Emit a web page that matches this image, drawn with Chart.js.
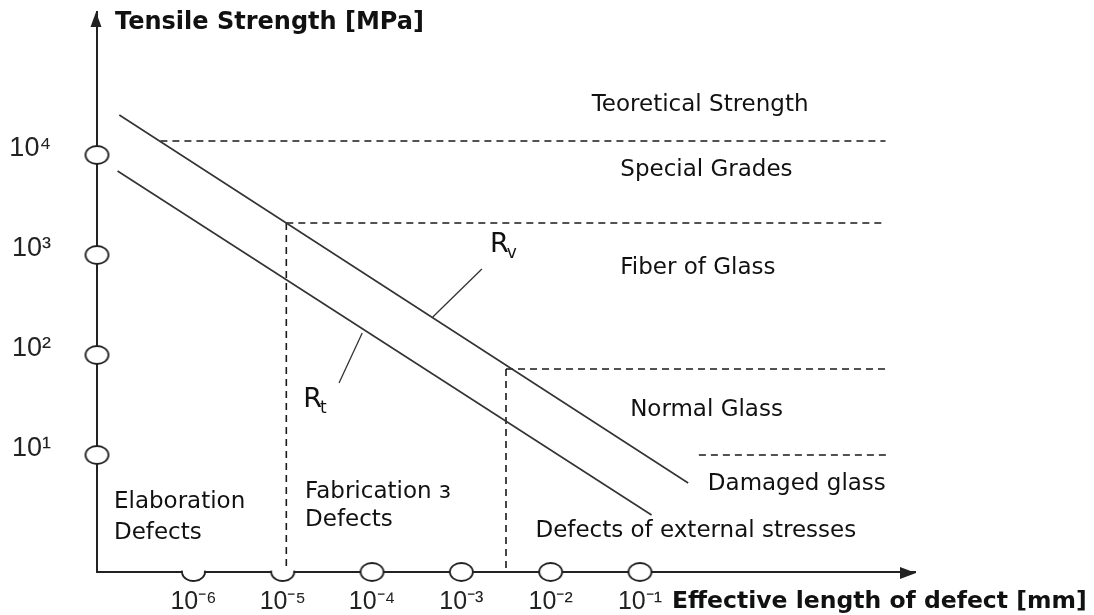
<!DOCTYPE html>
<html>
<head>
<meta charset="utf-8">
<script src="https://cdn.jsdelivr.net/npm/chart.js@4"></script>
<style>
  html, body { margin: 0; padding: 0; background: #fff; }
  #wrap { width: 1094px; height: 615px; }
</style>
</head>
<body>
<div id="wrap"><canvas id="chart" width="1094" height="615"></canvas></div>
<script>
// values are decimal exponents: x = log10(defect length in mm), y = log10(strength in MPa)
const xTicks = [-6, -5, -4, -3, -2, -1];
const xTickLabels = ['10⁻⁶', '10⁻⁵', '10⁻⁴', '10⁻³', '10⁻²', '10⁻¹'];
const yTicks = [1, 2, 3, 4];
const yTickLabels = ['10¹', '10²', '10³', '10⁴'];

const rvLine = [{x: -6.83, y: 4.40}, {x: -0.46, y: 0.72}];
const rtLine = [{x: -6.85, y: 3.84}, {x: -0.87, y: 0.40}];

// dashed borders between the strength classes
const theoreticalBorder = [{x: -6.37, y: 4.14}, {x: 1.75, y: 4.14}];
const specialBorder = [{x: -4.96, y: 3.32}, {x: 1.75, y: 3.32}];
const fiberBorder = [{x: -2.50, y: 1.86}, {x: 1.75, y: 1.86}];
const damagedBorder = [{x: -0.34, y: 1.00}, {x: 1.78, y: 1.00}];
const fabricationBorder = [{x: -4.96, y: 3.32}, {x: -4.96, y: -0.17}];
const externalBorder = [{x: -2.50, y: 1.86}, {x: -2.50, y: -0.17}];

// leader lines for the curve names
const rvLeader = [{x: -2.77, y: 2.86}, {x: -3.32, y: 2.38}];
const rtLeader = [{x: -4.11, y: 2.22}, {x: -4.37, y: 1.72}];

const xMin = -7.08, xMax = 2.08;
const yMin = -0.17, yMax = 5.43;

const regionLabels = [
    {text: 'Teoretical Strength', x: -1.54, y: 4.50},
    {text: 'Special Grades', x: -1.22, y: 3.85},
    {text: 'Fiber of Glass', x: -1.22, y: 2.87},
    {text: 'Normal Glass', x: -1.11, y: 1.45},
    {text: 'Damaged glass', x: -0.24, y: 0.71},
    {text: 'Defects of external stresses', x: -2.17, y: 0.24},
    {text: 'Elaboration', x: -6.89, y: 0.53},
    {text: 'Defects', x: -6.89, y: 0.22},
    {text: 'Fabrication ɜ', x: -4.75, y: 0.63},
    {text: 'Defects', x: -4.75, y: 0.35}
];
const curveNames = [
    {main: 'R', sub: 'v', x: -2.68, y: 3.10},
    {main: 'R', sub: 't', x: -4.77, y: 1.55}
];

function ring(half) {
    const c = document.createElement('canvas');
    c.width = 27; c.height = 22;
    const g = c.getContext('2d');
    g.lineWidth = 1.8;
    g.strokeStyle = '#222';
    g.fillStyle = '#fff';
    g.beginPath();
    if (half) {
        g.ellipse(13.5, 11, 11.5, 9, 0, -0.15, Math.PI + 0.15);
    } else {
        g.ellipse(13.5, 11, 11.5, 9, 0, 0, Math.PI * 2);
    }
    g.fill();
    g.stroke();
    return c;
}
const fullRing = ring(false);
const halfRing = ring(true);

function lineSet(data, dashed, width) {
    return {
        data: data,
        showLine: true,
        borderColor: dashed ? '#1a1a1a' : '#333',
        borderWidth: width || 1.6,
        borderDash: dashed ? [7, 5] : [],
        pointRadius: 0,
        clip: false
    };
}

// no label padding around the plot, the frame is set by afterFit
function noPadding(s) {
    s.paddingTop = 0;
    s.paddingBottom = 0;
    s.paddingLeft = 0;
    s.paddingRight = 0;
}

const textPlugin = {
    id: 'texts',
    afterDraw(chart) {
        const ctx = chart.ctx;
        const xs = chart.scales.x, ys = chart.scales.y;
        const area = chart.chartArea;
        ctx.save();
        ctx.fillStyle = '#222';
        // arrow heads
        ctx.beginPath();
        ctx.moveTo(area.left - 1, area.top);
        ctx.lineTo(area.left - 6.5, area.top + 15);
        ctx.lineTo(area.left + 4.5, area.top + 15);
        ctx.closePath();
        ctx.fill();
        ctx.beginPath();
        ctx.moveTo(area.right + 1, area.bottom + 1);
        ctx.lineTo(area.right - 15, area.bottom - 5);
        ctx.lineTo(area.right - 15, area.bottom + 7);
        ctx.closePath();
        ctx.fill();

        ctx.fillStyle = '#111';
        ctx.textBaseline = 'middle';
        ctx.textAlign = 'left';
        ctx.font = 'bold 24px "DejaVu Sans"';
        ctx.fillText('Tensile Strength [MPa]', area.left + 18, area.top + 11);
        ctx.font = 'bold 23.5px "DejaVu Sans"';
        ctx.fillText('Effective length of defect [mm]', area.right - 243, area.bottom + 30);

        ctx.font = '23px "DejaVu Sans"';
        regionLabels.forEach(l => {
            ctx.fillText(l.text, xs.getPixelForValue(l.x), ys.getPixelForValue(l.y));
        });
        curveNames.forEach(n => {
            const px = xs.getPixelForValue(n.x), py = ys.getPixelForValue(n.y);
            ctx.font = '27px "DejaVu Sans"';
            ctx.fillText(n.main, px, py);
            const w = ctx.measureText(n.main).width;
            ctx.font = '17px "DejaVu Sans"';
            ctx.fillText(n.sub, px + w - 2, py + 9);
        });
        ctx.restore();
    }
};

document.addEventListener('DOMContentLoaded', () => {
    const chart = document.querySelector('#chart').getContext('2d');
    new Chart(chart, {
        type: 'scatter',
        data: {
            datasets: [
                {
                    data: yTicks.map(v => ({x: xMin, y: v})),
                    pointStyle: fullRing,
                    pointRadius: 10,
                    clip: false
                },
                {
                    data: xTicks.map(v => ({x: v, y: yMin})),
                    pointStyle: xTicks.map(v => v <= -5 ? halfRing : fullRing),
                    pointRadius: 10,
                    clip: false
                },
                lineSet(rvLine),
                lineSet(rtLine),
                lineSet(rvLeader, false, 1.3),
                lineSet(rtLeader, false, 1.3),
                lineSet(theoreticalBorder, true),
                lineSet(specialBorder, true),
                lineSet(fiberBorder, true),
                lineSet(damagedBorder, true),
                lineSet(fabricationBorder, true),
                lineSet(externalBorder, true)
            ]
        },
        options: {
            responsive: false,
            animation: false,
            layout: {padding: {top: 12, right: 179, left: 0, bottom: 0}},
            plugins: {legend: {display: false}, tooltip: {enabled: false}},
            scales: {
                x: {
                    type: 'linear',
                    min: xMin,
                    max: xMax,
                    grid: {display: false, drawTicks: false},
                    border: {display: true, color: '#222', width: 2},
                    afterBuildTicks: s => { s.ticks = xTicks.map(v => ({value: v})); },
                    afterFit: s => { s.height = 43; noPadding(s); },
                    ticks: {
                        callback: (v, i) => xTickLabels[i],
                        autoSkip: false,
                        maxRotation: 0,
                        padding: 15,
                        color: '#222',
                        font: {family: 'Liberation Sans', size: 25}
                    }
                },
                y: {
                    type: 'linear',
                    min: yMin,
                    max: yMax,
                    grid: {display: false, drawTicks: false},
                    border: {display: true, color: '#222', width: 2},
                    afterBuildTicks: s => { s.ticks = yTicks.map(v => ({value: v})); },
                    afterFit: s => { s.width = 97; noPadding(s); },
                    ticks: {
                        callback: (v, i) => yTickLabels[i],
                        autoSkip: false,
                        padding: 46,
                        labelOffset: -6,
                        color: '#222',
                        font: {family: 'Liberation Sans', size: 27}
                    }
                }
            }
        },
        plugins: [textPlugin]
    });
});
</script>
</body>
</html>
